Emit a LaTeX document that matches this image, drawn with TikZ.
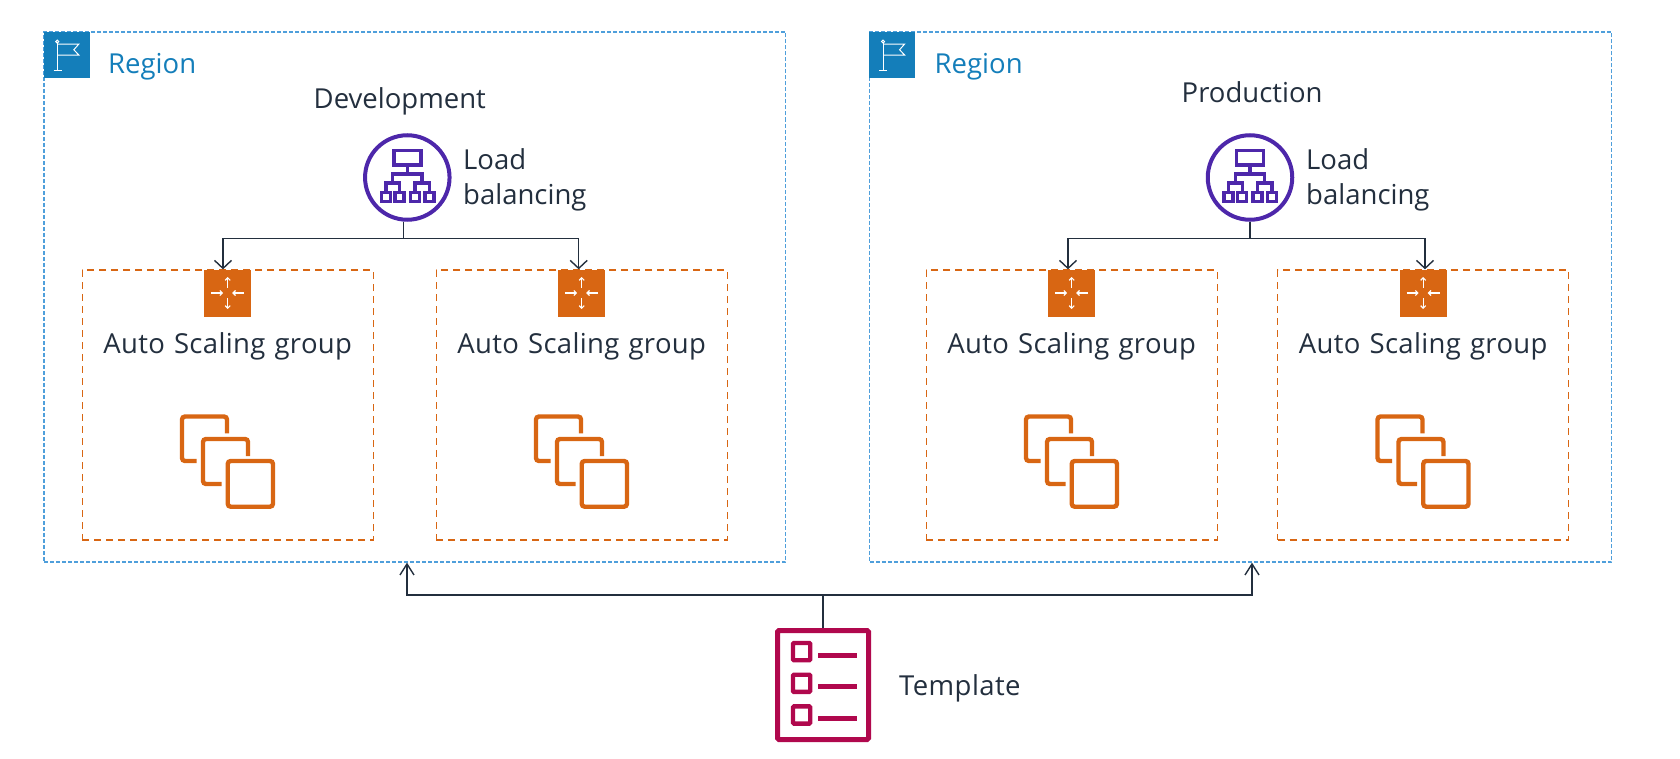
\documentclass[tikz,border=0pt]{standalone}
\usepackage{fontspec}
\setmainfont[WordSpace=1.2]{Open Sans}
\usetikzlibrary{positioning,arrows.meta}
\definecolor{awsdark}{HTML}{232F3E}
\definecolor{awsblue}{HTML}{147EBA}
\definecolor{regionline}{HTML}{4F9FDB}
\definecolor{awsorange}{HTML}{D86613}
\definecolor{awspurple}{HTML}{4D27AA}
\definecolor{awspink}{HTML}{B0084D}
\tikzset{
  regionbox/.style={draw=regionline, line width=1.3pt, dash pattern=on 4pt off 2pt, inner sep=0pt, minimum width=741.5pt, minimum height=530pt},
  asgbox/.style={draw=awsorange, line width=1.3pt, dash pattern=on 7pt off 5pt, inner sep=0pt, minimum width=291pt, minimum height=270pt},
  flagicon/.style={fill=awsblue, inner sep=0pt, minimum size=46pt},
  asgicon/.style={fill=awsorange, inner sep=0pt, minimum size=47pt},
  lbicon/.style={circle, draw=awspurple, line width=4pt, inner sep=0pt, minimum size=84.5pt},
  tmplicon/.style={draw=awspink, line width=5pt, rounded corners=1.5pt, inner sep=0pt, minimum width=91pt, minimum height=109pt},
  lbl/.style={text=awsdark, inner sep=0pt, anchor=base west, font=\fontsize{27.5}{35}\selectfont},
  asglbl/.style={text=awsdark, inner sep=0pt, anchor=base, font=\fontsize{27.5}{35}\selectfont\addfontfeature{LetterSpace=1.3}},
  regionlbl/.style={text=awsblue, inner sep=0pt, anchor=base west, font=\fontsize{27.5}{35}\selectfont},
  wire/.style={draw=awsdark, line width=1.4pt},
  tiptop/.style={-{Straight Barb[length=8pt,width=17pt]}},
  tipbottom/.style={-{Straight Barb[length=11pt,width=14pt]}},
  flagpic/.pic={
    \draw[white, line width=1pt] (-9.3,-11.5) -- (-9.3,16.2) (-13,16.2) -- (-5,16.2);
    \draw[white, line width=1pt] (-9.3,-13) circle (1.5pt);
    \draw[white, line width=1pt] (-9.3,-10.5) -- (12.3,-10.5) -- (7.3,-4.8) -- (12.3,0.5) -- (-9.3,0.5);
  },
  scalepic/.pic={
    \draw[white, line width=1.2pt, ->, >={Straight Barb[length=2.5pt,width=5pt]}] (0,-5) -- (0,-16);
    \draw[white, line width=1.2pt, ->, >={Straight Barb[length=2.5pt,width=5pt]}] (0,5) -- (0,16);
    \draw[white, line width=1.2pt, ->, >={Straight Barb[length=2.5pt,width=5pt]}] (-16.5,0) -- (-4.5,0);
    \draw[white, line width=1.2pt, ->, >={Straight Barb[length=2.5pt,width=5pt]}] (16.5,0) -- (4.5,0);
  },
  instpic/.pic={
    \draw[awsorange, line width=4.4pt, rounded corners=3pt] (0,168) rectangle (45.3,213.7);
    \draw[awsorange, line width=4.4pt, rounded corners=3pt] (20.3,163) -- (20.3,146) -- (-24.7,146) -- (-24.7,191) -- (-6,191);
    \draw[awsorange, line width=4.4pt, rounded corners=3pt] (-0.7,140.3) -- (-0.7,123.5) -- (-45.7,123.5) -- (-45.7,168) -- (-31,168);
  },
  lbpic/.pic={
    \draw[awspurple, line width=3.4pt] (-13.5,-27.2) rectangle (13.5,-12.5);
    \draw[awspurple, line width=3.4pt] (0,-12.5) -- (0,-3.5) (-14.7,5.7) -- (-14.7,-3.5) -- (14.7,-3.5) -- (14.7,5.7);
    \draw[awspurple, line width=3.4pt] (-21.5,16.2) -- (-21.5,5.7) -- (-7.8,5.7) -- (-7.8,16.2);
    \draw[awspurple, line width=3.4pt] (7.5,16.2) -- (7.5,5.7) -- (22,5.7) -- (22,16.2);
    \draw[awspurple, line width=3.4pt] (-26,15.2) rectangle (-17,24.2);
    \draw[awspurple, line width=3.4pt] (-12.3,15.2) rectangle (-3.3,24.2);
    \draw[awspurple, line width=3.4pt] (3,15.2) rectangle (12,24.2);
    \draw[awspurple, line width=3.4pt] (17.5,15.2) rectangle (26.5,24.2);
  },
  tmplpic/.pic={
    \draw[awspink, line width=4.4pt, rounded corners=1pt] (-30,-42) rectangle (-12.8,-24.8);
    \draw[awspink, line width=4.4pt, rounded corners=1pt] (-30,-10.3) rectangle (-12.8,6.9);
    \draw[awspink, line width=4.4pt, rounded corners=1pt] (-30,21.4) rectangle (-12.8,38.6);
    \draw[awspink, line width=5pt] (-4.7,-29.7) -- (34.3,-29.7) (-4.7,1.7) -- (34.3,1.7) (-4.7,33.3) -- (34.3,33.3);
  }
}

\begin{document}
\begin{tikzpicture}[x=1pt, y=-1pt]
  \useasboundingbox (0,0) rectangle (1680,759);

  % Regions
  \node[regionbox] (region1) at (414.75,297) {};
  \node[regionbox] (region2) at (1240.5,297) {};
  \node[flagicon, anchor=north west] (flag1) at (region1.north west) {};
  \node[flagicon, anchor=north west] (flag2) at (region2.north west) {};
  \pic at (flag1) {flagpic};
  \pic at (flag2) {flagpic};
  \node[regionlbl] (regionlbl1) at (108,73.5) {Region};
  \node[regionlbl] (regionlbl2) at (934.5,73.5) {Region};
  \node[lbl] (dev) at (313.5,109) {Development};
  \node[lbl] (prod) at (1181.5,103) {Production};

  % Load balancing
  \node[lbicon] (lb1) at (407.3,177.5) {};
  \node[lbicon] (lb2) at (1250,177.5) {};
  \pic at (lb1) {lbpic};
  \pic at (lb2) {lbpic};
  \node[lbl] (lbtop1) at (463,170) {Load};
  \node[lbl] (lbbot1) at (463,205) {balancing};
  \node[lbl] (lbtop2) at (1306,170) {Load};
  \node[lbl] (lbbot2) at (1306,205) {balancing};

  % Auto Scaling groups
  \node[asgbox] (box1) at (227.7,405) {};
  \node[asgbox] (box2) at (581.7,405) {};
  \node[asgbox] (box3) at (1071.7,405) {};
  \node[asgbox] (box4) at (1423.2,405) {};

  % Arrows into the groups
  \coordinate (split1) at (403.3,238.7);
  \coordinate (split2) at (lb2.south |- 0,238.7);
  \draw[wire] (split1 |- lb1.south) -- (split1);
  \draw[wire] (lb2.south) -- (split2);
  \draw[wire, tiptop] (split1) -| ([xshift=-4.7pt]box1.north);
  \draw[wire, tiptop] (split1) -| ([xshift=-3pt]box2.north);
  \draw[wire, tiptop] (split2) -| ([xshift=-3.7pt]box3.north);
  \draw[wire, tiptop] (split2) -| ([xshift=1.8pt]box4.north);

  \node[asgicon] (asg1) at (227.7,293) {};
  \node[asgicon] (asg2) at (581.7,293) {};
  \node[asgicon] (asg3) at (1071.7,293) {};
  \node[asgicon] (asg4) at (1423.2,293) {};
  \pic at (asg1) {scalepic};
  \pic at (asg2) {scalepic};
  \pic at (asg3) {scalepic};
  \pic at (asg4) {scalepic};
  \node[asglbl] (asglbl1) at (227.7,353) {Auto Scaling group};
  \node[asglbl] (asglbl2) at (581.7,353) {Auto Scaling group};
  \node[asglbl] (asglbl3) at (1071.7,353) {Auto Scaling group};
  \node[asglbl] (asglbl4) at (1423.2,353) {Auto Scaling group};
  \pic at (asg1) {instpic};
  \pic at (asg2) {instpic};
  \pic at (asg3) {instpic};
  \pic at (asg4) {instpic};

  % Template
  \node[tmplicon] (tmpl) at (823,685) {};
  \pic at (tmpl) {tmplpic};
  \node[lbl] (tmpllbl) at (899,695.5) {\addfontfeature{LetterSpace=1.5}Template};

  % Arrows from the template
  \coordinate (split3) at (tmpl.north |- 0,595);
  \draw[wire] (tmpl.north) -- (split3);
  \draw[wire, tipbottom] (split3) -| ([xshift=-7.75pt]region1.south);
  \draw[wire, tipbottom] (split3) -| ([xshift=11.5pt]region2.south);
\end{tikzpicture}
\end{document}
